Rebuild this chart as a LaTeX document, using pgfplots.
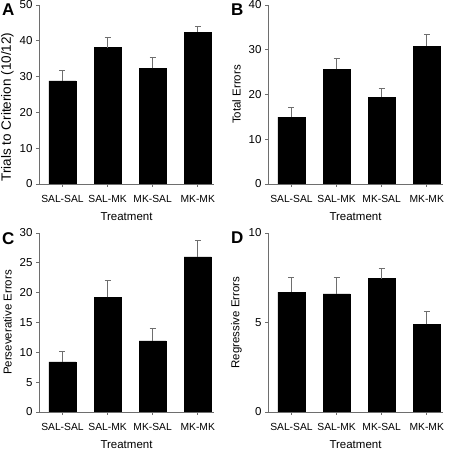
\documentclass[border=0pt]{standalone}
\usepackage{fontspec}
\setmainfont{Liberation Sans}
\usepackage{pgfplots}
\usepackage{pgfplotstable}
\pgfplotsset{compat=1.18}

\pgfplotstableread{
x y e
0 28.8 2.9
1 38.1 2.8
2 32.3 3.1
3 42.4 1.6
}\dataA
\pgfplotstableread{
x y e
0 14.95 2.05
1 25.6 2.5
2 19.4 2.0
3 30.8 2.5
}\dataB
\pgfplotstableread{
x y e
0 8.4 1.8
1 19.2 2.9
2 11.9 2.1
3 26.0 2.8
}\dataC
\pgfplotstableread{
x y e
0 6.7 0.84
1 6.6 0.89
2 7.45 0.55
3 4.9 0.7
}\dataD

\definecolor{axgray}{RGB}{110,110,110}

\pgfplotsset{
  panel/.style={
    scale only axis, width=175pt, height=179pt,
    anchor=south west,
    axis x line*=bottom, axis y line*=left,
    axis line style={axgray, line width=0.8pt},
    xmin=-0.52, xmax=3.36, ymin=0,
    xtick={0,1,2,3}, xticklabels={SAL-SAL,SAL-MK,MK-SAL,MK-MK},
    tick align=outside, major tick length=3pt,
    tick style={axgray, line width=0.8pt},
    ybar, bar width=0.6,
    /pgf/number format/assume math mode=true,
    tick label style={font=\fontsize{11.5}{13}\selectfont},
    xticklabel style={font=\fontsize{10.3}{12}\selectfont, yshift=-4.5pt},
    label style={font=\fontsize{11.5}{13}\selectfont},
    xlabel={Treatment},
    xlabel style={at={(axis description cs:0.5,-0.18)}, anchor=center},
    ylabel style={at={(axis description cs:-0.18,0.5)}, anchor=center},
  },
  bars/.style={
    fill=black, draw=black,
    error bars/.cd, y dir=plus, y explicit,
    error bar style={axgray, line width=1pt},
    error mark options={rotate=90, mark size=3pt, axgray, line width=1pt},
  },
}
\newcommand{\panelletter}[1]{\node[font=\bfseries\fontsize{17}{17}\selectfont, anchor=north west, inner sep=0pt] at ([xshift=-37pt,yshift=1pt]current axis.north west) {#1};}

\begin{document}
\begin{tikzpicture}
\useasboundingbox (0pt,0pt) rectangle (450pt,449pt);

\begin{axis}[panel, at={(39pt,265pt)}, ymax=50, ytick={0,10,20,30,40,50},
  ylabel={Trials to Criterion (10/12)},
  ylabel style={at={(axis description cs:-0.18,0.43)}, font=\fontsize{13.5}{15}\selectfont}]
\addplot[bars] table[x=x,y=y,y error=e]{\dataA};
\end{axis}
\panelletter{A}

\begin{axis}[panel, at={(268pt,265pt)}, ymax=40, ytick={0,10,20,30,40},
  ylabel={Total Errors}]
\addplot[bars] table[x=x,y=y,y error=e]{\dataB};
\end{axis}
\panelletter{B}

\begin{axis}[panel, at={(39pt,37pt)}, ymax=30, ytick={0,5,10,15,20,25,30},
  ylabel={Perseverative Errors}]
\addplot[bars] table[x=x,y=y,y error=e]{\dataC};
\end{axis}
\panelletter{C}

\begin{axis}[panel, at={(268pt,37pt)}, ymax=10, ytick={0,5,10},
  ylabel={Regressive Errors}]
\addplot[bars] table[x=x,y=y,y error=e]{\dataD};
\end{axis}
\panelletter{D}
\end{tikzpicture}
\end{document}
